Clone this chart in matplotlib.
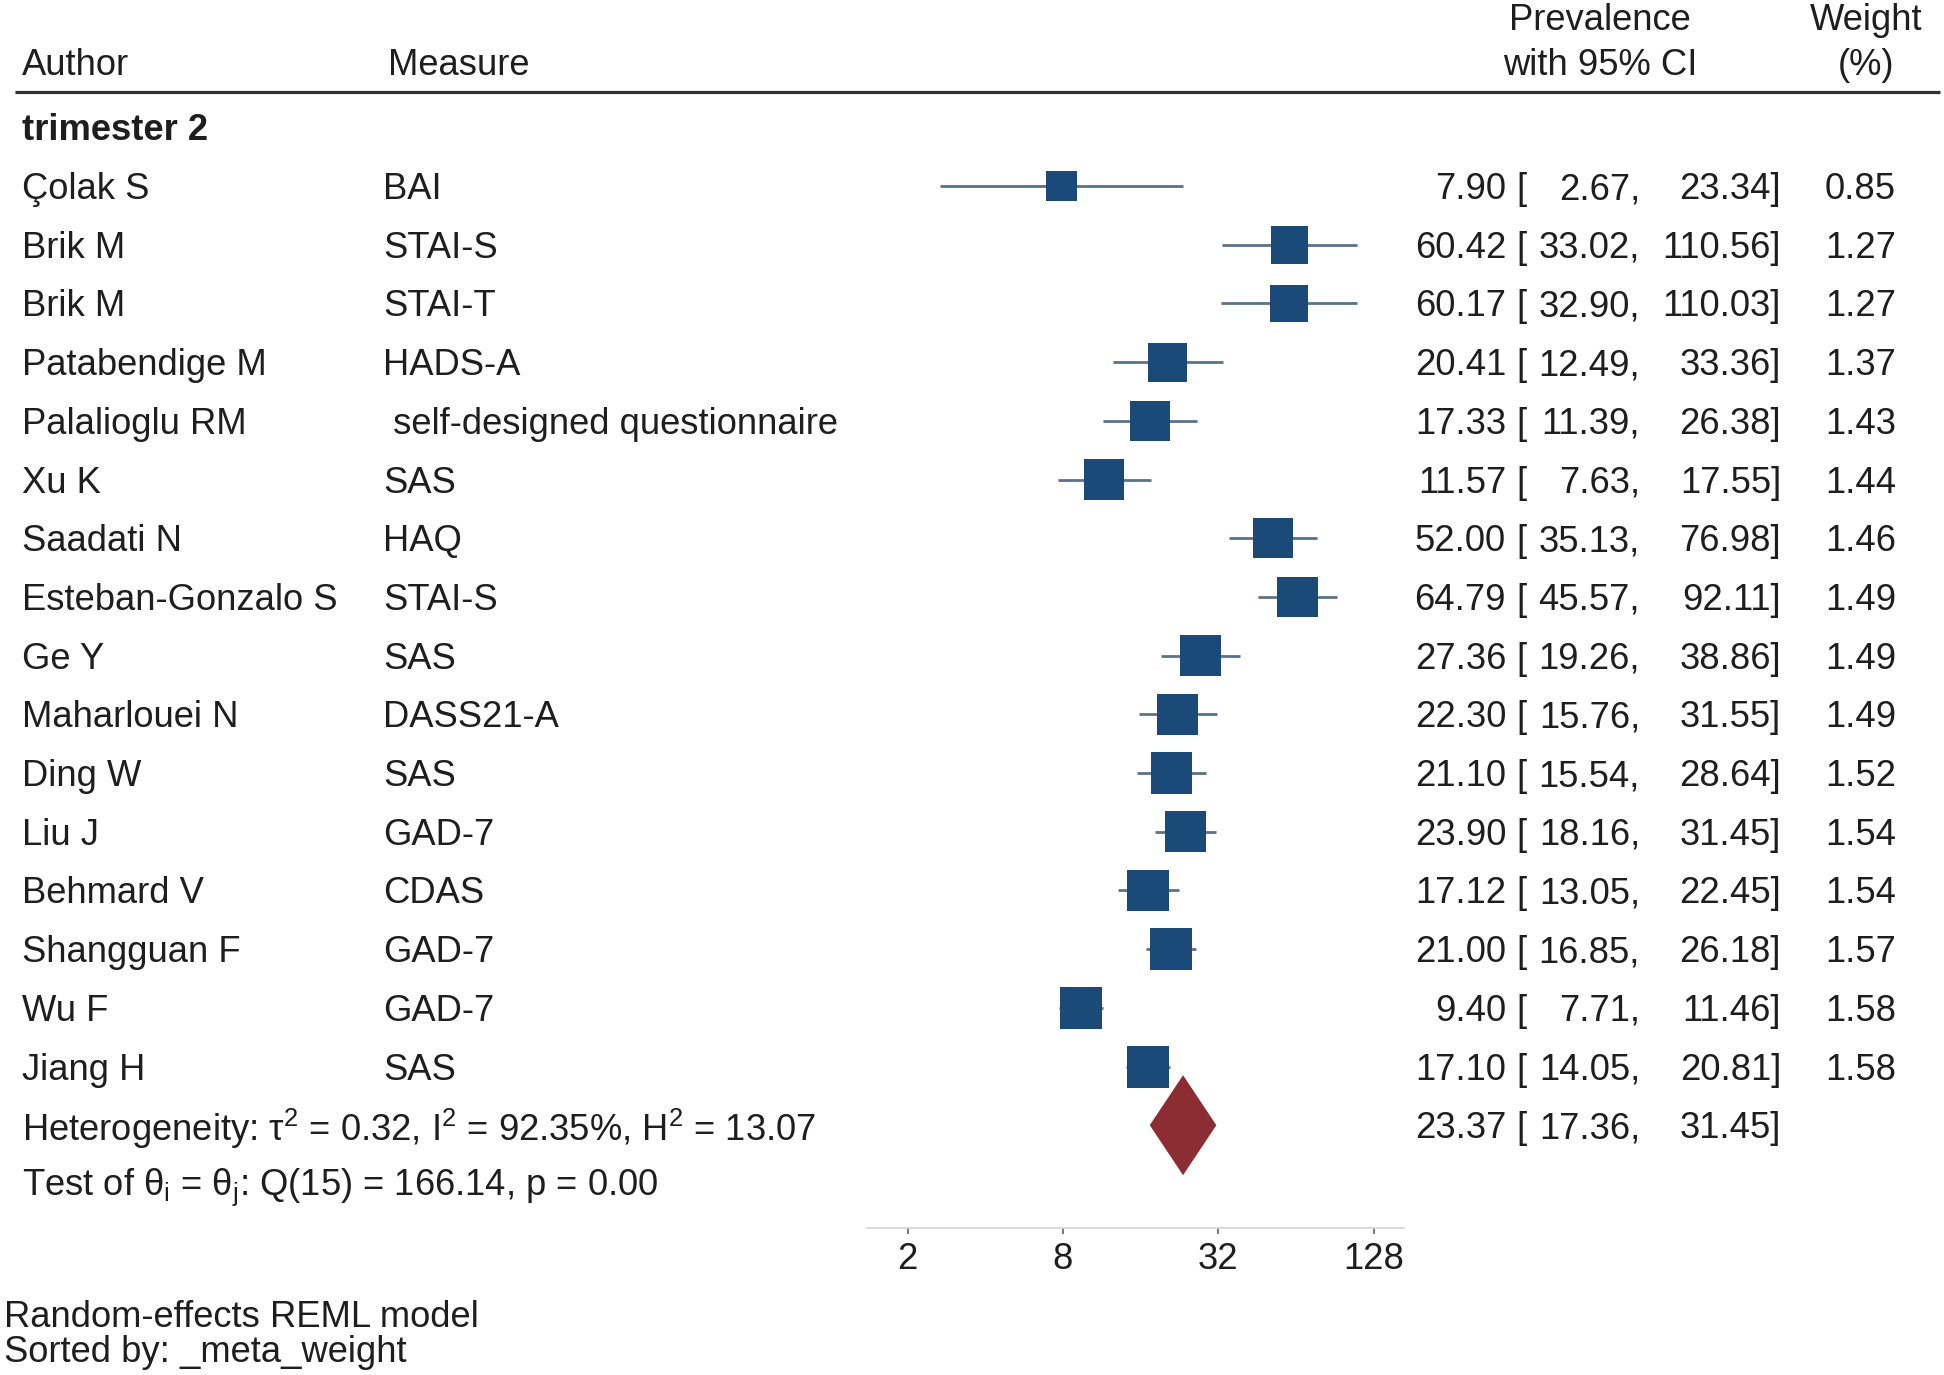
import numpy as np
import matplotlib
matplotlib.use("Agg")
import matplotlib.pyplot as plt
from matplotlib.ticker import FixedLocator, FixedFormatter, NullLocator

plt.rcParams['font.family'] = ['Liberation Sans', 'DejaVu Sans']
plt.rcParams['mathtext.fontset'] = 'custom'
plt.rcParams['mathtext.rm'] = 'Liberation Sans'
plt.rcParams['mathtext.it'] = 'Liberation Sans'

# ---------------- data ----------------
group_label = "trimester 2"
authors = ["Çolak S", "Brik M", "Brik M", "Patabendige M", "Palalioglu RM", "Xu K",
           "Saadati N", "Esteban-Gonzalo S", "Ge Y", "Maharlouei N", "Ding W", "Liu J",
           "Behmard V", "Shangguan F", "Wu F", "Jiang H"]
measures = ["BAI", "STAI-S", "STAI-T", "HADS-A", " self-designed questionnaire", "SAS",
            "HAQ", "STAI-S", "SAS", "DASS21-A", "SAS", "GAD-7", "CDAS", "GAD-7", "GAD-7", "SAS"]
estimates = [7.90, 60.42, 60.17, 20.41, 17.33, 11.57, 52.00, 64.79, 27.36, 22.30, 21.10,
             23.90, 17.12, 21.00, 9.40, 17.10]
ci_low = [2.67, 33.02, 32.90, 12.49, 11.39, 7.63, 35.13, 45.57, 19.26, 15.76, 15.54,
          18.16, 13.05, 16.85, 7.71, 14.05]
ci_high = [23.34, 110.56, 110.03, 33.36, 26.38, 17.55, 76.98, 92.11, 38.86, 31.55, 28.64,
           31.45, 22.45, 26.18, 11.46, 20.81]
weights = [0.85, 1.27, 1.27, 1.37, 1.43, 1.44, 1.46, 1.49, 1.49, 1.49, 1.52, 1.54, 1.54,
           1.57, 1.58, 1.58]
overall_est = 23.37
overall_low = 17.36
overall_high = 31.45
het_text = r"Heterogeneity: τ$^\mathrm{2}$ = 0.32, I$^\mathrm{2}$ = 92.35%, H$^\mathrm{2}$ = 13.07"
test_text = r"Test of θ$_\mathrm{i}$ = θ$_\mathrm{j}$: Q(15) = 166.14, p = 0.00"
x_ticks = [2, 8, 32, 128]
x_ticklabels = ["2", "8", "32", "128"]
footer = ["Random-effects REML model", "Sorted by: _meta_weight"]

# ---------------- layout (pixels) ----------------
W, H = 1944, 1375
fig = plt.figure(figsize=(W / 100, H / 100), dpi=100)
fig.patch.set_facecolor("white")

tax = fig.add_axes([0, 0, 1, 1])
tax.set_xlim(0, W)
tax.set_ylim(H, 0)
tax.axis("off")

FS = 26.2
TC = "#1e1e1e"
OFF = 3.5  # text vertical offset
row0, dy = 186.0, 58.7
rows = [row0 + i * dy for i in range(len(authors))]
y_group = row0 - dy
y_het = row0 + len(authors) * dy
y_test = y_het + dy


def put(x, y, s, ha="left", **kw):
    tax.text(x, y + OFF, s, fontsize=FS, color=TC, va="center", ha=ha, **kw)


# header
put(22, 62, "Author")
put(388, 62, "Measure")
put(1600, 17, "Prevalence", ha="center")
put(1600, 62, "with 95% CI", ha="center")
put(1866, 17, "Weight", ha="center")
put(1866, 62, "(%)", ha="center")
tax.plot([15, 1940], [92, 92], color="#333333", lw=2.3, solid_capstyle="butt")

put(22, y_group, group_label, fontweight="bold")


def ci_texts(y, e, l, h, w=None):
    put(1506, y, f"{e:.2f}", ha="right")
    put(1516, y, "[")
    put(1640, y, f"{l:.2f},", ha="right")
    put(1781, y, f"{h:.2f}]", ha="right")
    if w is not None:
        put(1896, y, f"{w:.2f}", ha="right")


for y, a, m, e, l, h, w in zip(rows, authors, measures, estimates, ci_low, ci_high, weights):
    put(22, y, a)
    put(383, y, m)
    ci_texts(y, e, l, h, w)

put(22, y_het, het_text)
ci_texts(y_het, overall_est, overall_low, overall_high)
put(22, y_test, test_text)

put(4, 1314, footer[0])
put(4, 1349, footer[1])

# ---------------- forest axes ----------------
x_left, x_right = 867, 1404
ax = fig.add_axes([x_left / W, 0, (x_right - x_left) / W, 1])
ax.patch.set_alpha(0)
ax.set_xscale("log", base=2)
px_per_log2 = 77.7
x2_px = 907.5
lo_lim = 2 ** (1 + (x_left - x2_px) / px_per_log2)
hi_lim = 2 ** (1 + (x_right - x2_px) / px_per_log2)
ax.set_xlim(lo_lim, hi_lim)
ax.set_ylim(H, 0)

box_color = "#1b4a78"
line_color = "#58738a"
full_side_px = 42.0
wmax = max(weights)
for y, e, l, h, w in zip(rows, estimates, ci_low, ci_high, weights):
    ax.plot([l, h], [y, y], color=line_color, lw=2.0, solid_capstyle="butt", zorder=2)
    side_pt = full_side_px * np.sqrt(w / wmax) * 0.72
    ax.scatter([e], [y], marker="s", s=side_pt ** 2, color=box_color,
               edgecolors="none", zorder=3)

half_h = 50
ax.fill([overall_low, overall_est, overall_high, overall_est],
        [y_het, y_het - half_h, y_het, y_het + half_h],
        color="#8c2d33", edgecolor="none", zorder=3)

for s in ["top", "left", "right"]:
    ax.spines[s].set_visible(False)
ax.spines["bottom"].set_position(("data", 1228))
ax.spines["bottom"].set_color("#d4d4d4")
ax.spines["bottom"].set_linewidth(1.2)
ax.yaxis.set_visible(False)
ax.xaxis.set_major_locator(FixedLocator(x_ticks))
ax.xaxis.set_major_formatter(FixedFormatter(x_ticklabels))
ax.xaxis.set_minor_locator(NullLocator())
ax.tick_params(axis="x", which="major", direction="out", length=4, width=1.4,
               color="#777777", labelsize=FS, labelcolor=TC, pad=6)

fig.savefig("out.png", dpi=100, facecolor="white")
